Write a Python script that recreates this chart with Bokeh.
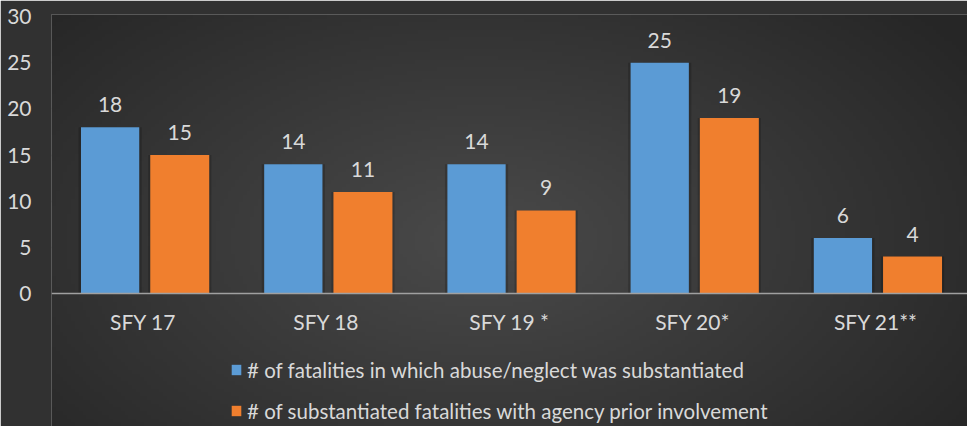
import numpy as np
from bokeh.plotting import figure
from bokeh.models import (ColumnDataSource, Range1d, FactorRange, FixedTicker,
                          Legend, LegendItem)
from bokeh.transform import dodge
from bokeh.core.properties import value
from bokeh.embed import file_html
from bokeh.resources import INLINE

categories = ["SFY 17", "SFY 18", "SFY 19 *", "SFY 20*", "SFY 21**"]
substantiated = [18, 14, 14, 25, 6]
prior_involvement = [15, 11, 9, 19, 4]
y_ticks = [0, 5, 10, 15, 20, 25, 30]
series_names = ["# of fatalities in which abuse/neglect was substantiated",
                "# of substantiated fatalities with agency prior involvement"]

BORDER = "#313131"
TXT = "#d9d9d9"
FONT = "Lato"
FS = "21px"
BLUE = "#5b9bd5"
ORANGE = "#f07f2e"

Y0, Y1 = -14.4, 30.217

src = ColumnDataSource(dict(cat=categories, a=substantiated, b=prior_involvement,
                            a_lbl=[str(v) for v in substantiated],
                            b_lbl=[str(v) for v in prior_involvement]))

p = figure(width=967, height=426, x_range=FactorRange(*categories),
           y_range=Range1d(Y0, Y1), output_backend="svg", toolbar_location=None,
           min_border_left=51, min_border_right=0, min_border_top=14,
           min_border_bottom=0)
p.background_fill_color = "#3a3a3a"
p.border_fill_color = BORDER
p.outline_line_color = None
p.x_range.range_padding = 0

# radial dark-gray background shading (decoration only)
gw, gh = 240, 110
gx = np.linspace(51, 967, gw)
gy = np.linspace(426, 14, gh)
XX, YY = np.meshgrid(gx, gy)
d = np.clip(np.sqrt(((XX - 480) / 600.0) ** 2 + ((YY - 200) / 350.0) ** 2), 0, 1)
lum = (74 - 36 * d).astype(np.uint32)
bg = (255 << 24) | (lum << 16) | (lum << 8) | lum
p.image_rgba(image=[bg.astype(np.uint32)[::-1]], x=0, y=Y0, dw=5, dh=Y1 - Y0)

BX = -0.18
OX = 0.2

# soft shadows
p.vbar(x=dodge("cat", BX, range=p.x_range), top="a", width=0.345, bottom=0,
       source=src, fill_color="black", fill_alpha=0.18, line_color=None)
p.vbar(x=dodge("cat", OX, range=p.x_range), top="b", width=0.345, bottom=0,
       source=src, fill_color="black", fill_alpha=0.18, line_color=None)

r1 = p.vbar(x=dodge("cat", BX, range=p.x_range), top="a", width=0.318, bottom=0,
            source=src, fill_color=BLUE, line_color=None)
r2 = p.vbar(x=dodge("cat", OX, range=p.x_range), top="b", width=0.322, bottom=0,
            source=src, fill_color=ORANGE, line_color=None)

p.text(x=dodge("cat", BX, range=p.x_range), y="a", text="a_lbl", source=src,
       y_offset=-15, text_align="center", text_baseline="bottom",
       text_font=value(FONT), text_font_size=FS, text_color=TXT)
p.text(x=dodge("cat", OX, range=p.x_range), y="b", text="b_lbl", source=src,
       y_offset=-15, text_align="center", text_baseline="bottom",
       text_font=value(FONT), text_font_size=FS, text_color=TXT)

# axes
p.xaxis.fixed_location = 0
p.xaxis.axis_line_color = "#a0a0a0"
p.xaxis.axis_line_width = 1.6
p.xaxis.major_tick_line_color = None
p.xaxis.minor_tick_line_color = None
p.xaxis.major_label_standoff = 9
p.xaxis.major_label_text_font = FONT
p.xaxis.major_label_text_font_size = FS
p.xaxis.major_label_text_color = TXT

p.yaxis.ticker = FixedTicker(ticks=y_ticks)
p.yaxis.axis_line_color = None
p.yaxis.major_tick_line_color = None
p.yaxis.minor_tick_line_color = None
p.yaxis.major_label_standoff = 14
p.yaxis.major_label_text_font = FONT
p.yaxis.major_label_text_font_size = FS
p.yaxis.major_label_text_color = TXT

p.xgrid.grid_line_color = None
p.ygrid.ticker = FixedTicker(ticks=y_ticks)
p.ygrid.grid_line_color = "#555555"
p.ygrid.grid_line_width = 1.3

legend = Legend(items=[LegendItem(label=series_names[0], renderers=[r1]),
                       LegendItem(label=series_names[1], renderers=[r2])],
                location=(179, 3), orientation="vertical",
                background_fill_alpha=0, border_line_color=None,
                label_text_font=FONT, label_text_font_size="20.5px",
                label_text_color=TXT, glyph_width=12, glyph_height=13,
                label_height=25, spacing=16, label_standoff=5,
                padding=0, margin=0)
p.add_layout(legend, "center")

open("out.html", "w").write(file_html(p, INLINE))
